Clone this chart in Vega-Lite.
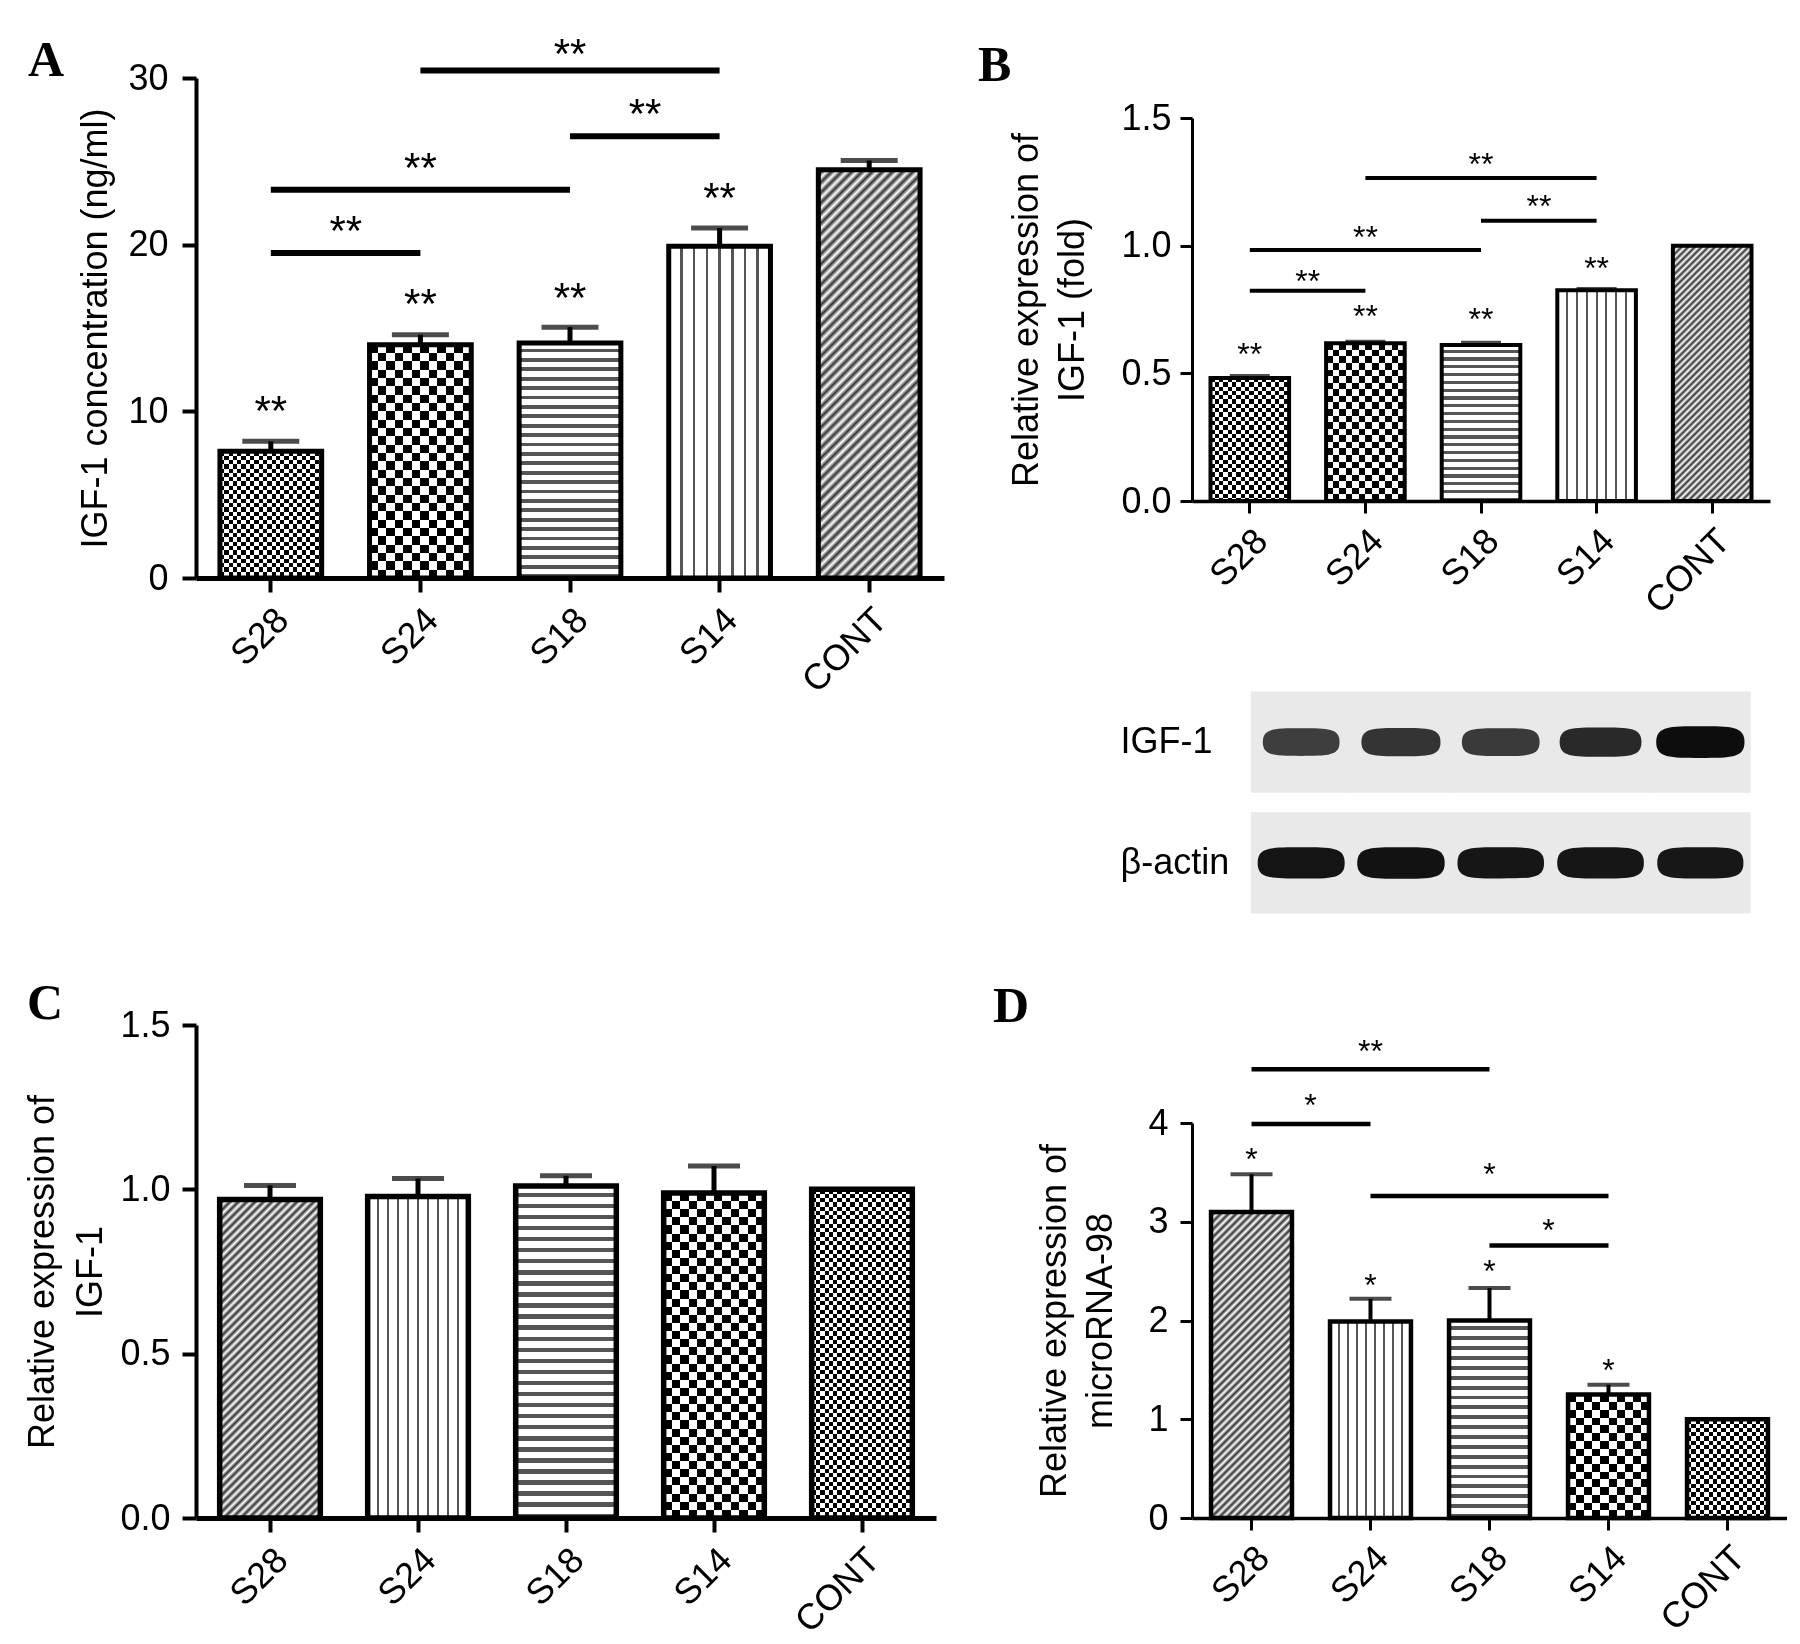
{
  "$schema": "https://vega.github.io/schema/vega-lite/v6.json",
  "background": "white",
  "padding": {"left": 24, "top": 34, "right": 0, "bottom": 0},
  "bounds": "flush",
  "spacing": 996,
  "params": [
    {"name": "vl7", "value": [
      {"offset": 0, "color": "#fff"},
      {"offset": 0.1125, "color": "#fff"}, {"offset": 0.1125, "color": "#555"}, {"offset": 0.1375, "color": "#555"}, {"offset": 0.1375, "color": "#fff"},
      {"offset": 0.2375, "color": "#fff"}, {"offset": 0.2375, "color": "#555"}, {"offset": 0.2625, "color": "#555"}, {"offset": 0.2625, "color": "#fff"},
      {"offset": 0.3625, "color": "#fff"}, {"offset": 0.3625, "color": "#555"}, {"offset": 0.3875, "color": "#555"}, {"offset": 0.3875, "color": "#fff"},
      {"offset": 0.4875, "color": "#fff"}, {"offset": 0.4875, "color": "#555"}, {"offset": 0.5125, "color": "#555"}, {"offset": 0.5125, "color": "#fff"},
      {"offset": 0.6125, "color": "#fff"}, {"offset": 0.6125, "color": "#555"}, {"offset": 0.6375, "color": "#555"}, {"offset": 0.6375, "color": "#fff"},
      {"offset": 0.7375, "color": "#fff"}, {"offset": 0.7375, "color": "#555"}, {"offset": 0.7625, "color": "#555"}, {"offset": 0.7625, "color": "#fff"},
      {"offset": 0.8625, "color": "#fff"}, {"offset": 0.8625, "color": "#555"}, {"offset": 0.8875, "color": "#555"}, {"offset": 0.8875, "color": "#fff"},
      {"offset": 1, "color": "#fff"}]},
    {"name": "vl9", "value": [
      {"offset": 0, "color": "#fff"},
      {"offset": 0.088, "color": "#fff"}, {"offset": 0.088, "color": "#555"}, {"offset": 0.112, "color": "#555"}, {"offset": 0.112, "color": "#fff"},
      {"offset": 0.188, "color": "#fff"}, {"offset": 0.188, "color": "#555"}, {"offset": 0.212, "color": "#555"}, {"offset": 0.212, "color": "#fff"},
      {"offset": 0.288, "color": "#fff"}, {"offset": 0.288, "color": "#555"}, {"offset": 0.312, "color": "#555"}, {"offset": 0.312, "color": "#fff"},
      {"offset": 0.388, "color": "#fff"}, {"offset": 0.388, "color": "#555"}, {"offset": 0.412, "color": "#555"}, {"offset": 0.412, "color": "#fff"},
      {"offset": 0.488, "color": "#fff"}, {"offset": 0.488, "color": "#555"}, {"offset": 0.512, "color": "#555"}, {"offset": 0.512, "color": "#fff"},
      {"offset": 0.588, "color": "#fff"}, {"offset": 0.588, "color": "#555"}, {"offset": 0.612, "color": "#555"}, {"offset": 0.612, "color": "#fff"},
      {"offset": 0.688, "color": "#fff"}, {"offset": 0.688, "color": "#555"}, {"offset": 0.712, "color": "#555"}, {"offset": 0.712, "color": "#fff"},
      {"offset": 0.788, "color": "#fff"}, {"offset": 0.788, "color": "#555"}, {"offset": 0.812, "color": "#555"}, {"offset": 0.812, "color": "#fff"},
      {"offset": 0.888, "color": "#fff"}, {"offset": 0.888, "color": "#555"}, {"offset": 0.912, "color": "#555"}, {"offset": 0.912, "color": "#fff"},
      {"offset": 1, "color": "#fff"}]},
    {"name": "vl8", "value": [
      {"offset": 0, "color": "#fff"},
      {"offset": 0.0971, "color": "#fff"}, {"offset": 0.0971, "color": "#555"}, {"offset": 0.1251, "color": "#555"}, {"offset": 0.1251, "color": "#fff"},
      {"offset": 0.2082, "color": "#fff"}, {"offset": 0.2082, "color": "#555"}, {"offset": 0.2362, "color": "#555"}, {"offset": 0.2362, "color": "#fff"},
      {"offset": 0.3193, "color": "#fff"}, {"offset": 0.3193, "color": "#555"}, {"offset": 0.3473, "color": "#555"}, {"offset": 0.3473, "color": "#fff"},
      {"offset": 0.4304, "color": "#fff"}, {"offset": 0.4304, "color": "#555"}, {"offset": 0.4584, "color": "#555"}, {"offset": 0.4584, "color": "#fff"},
      {"offset": 0.5416, "color": "#fff"}, {"offset": 0.5416, "color": "#555"}, {"offset": 0.5696, "color": "#555"}, {"offset": 0.5696, "color": "#fff"},
      {"offset": 0.6527, "color": "#fff"}, {"offset": 0.6527, "color": "#555"}, {"offset": 0.6807, "color": "#555"}, {"offset": 0.6807, "color": "#fff"},
      {"offset": 0.7638, "color": "#fff"}, {"offset": 0.7638, "color": "#555"}, {"offset": 0.7918, "color": "#555"}, {"offset": 0.7918, "color": "#fff"},
      {"offset": 0.8749, "color": "#fff"}, {"offset": 0.8749, "color": "#555"}, {"offset": 0.9029, "color": "#555"}, {"offset": 0.9029, "color": "#fff"},
      {"offset": 1, "color": "#fff"}]},
    {"name": "hl25", "value": [
      {"offset": 0, "color": "#fff"}, {"offset": 0.024, "color": "#fff"}, {"offset": 0.024, "color": "#555"}, {"offset": 0.04, "color": "#555"},
      {"offset": 0.04, "color": "#fff"}, {"offset": 0.064, "color": "#fff"}, {"offset": 0.064, "color": "#555"}, {"offset": 0.08, "color": "#555"},
      {"offset": 0.08, "color": "#fff"}, {"offset": 0.104, "color": "#fff"}, {"offset": 0.104, "color": "#555"}, {"offset": 0.12, "color": "#555"},
      {"offset": 0.12, "color": "#fff"}, {"offset": 0.144, "color": "#fff"}, {"offset": 0.144, "color": "#555"}, {"offset": 0.16, "color": "#555"},
      {"offset": 0.16, "color": "#fff"}, {"offset": 0.184, "color": "#fff"}, {"offset": 0.184, "color": "#555"}, {"offset": 0.2, "color": "#555"},
      {"offset": 0.2, "color": "#fff"}, {"offset": 0.224, "color": "#fff"}, {"offset": 0.224, "color": "#555"}, {"offset": 0.24, "color": "#555"},
      {"offset": 0.24, "color": "#fff"}, {"offset": 0.264, "color": "#fff"}, {"offset": 0.264, "color": "#555"}, {"offset": 0.28, "color": "#555"},
      {"offset": 0.28, "color": "#fff"}, {"offset": 0.304, "color": "#fff"}, {"offset": 0.304, "color": "#555"}, {"offset": 0.32, "color": "#555"},
      {"offset": 0.32, "color": "#fff"}, {"offset": 0.344, "color": "#fff"}, {"offset": 0.344, "color": "#555"}, {"offset": 0.36, "color": "#555"},
      {"offset": 0.36, "color": "#fff"}, {"offset": 0.384, "color": "#fff"}, {"offset": 0.384, "color": "#555"}, {"offset": 0.4, "color": "#555"},
      {"offset": 0.4, "color": "#fff"}, {"offset": 0.424, "color": "#fff"}, {"offset": 0.424, "color": "#555"}, {"offset": 0.44, "color": "#555"},
      {"offset": 0.44, "color": "#fff"}, {"offset": 0.464, "color": "#fff"}, {"offset": 0.464, "color": "#555"}, {"offset": 0.48, "color": "#555"},
      {"offset": 0.48, "color": "#fff"}, {"offset": 0.504, "color": "#fff"}, {"offset": 0.504, "color": "#555"}, {"offset": 0.52, "color": "#555"},
      {"offset": 0.52, "color": "#fff"}, {"offset": 0.544, "color": "#fff"}, {"offset": 0.544, "color": "#555"}, {"offset": 0.56, "color": "#555"},
      {"offset": 0.56, "color": "#fff"}, {"offset": 0.584, "color": "#fff"}, {"offset": 0.584, "color": "#555"}, {"offset": 0.6, "color": "#555"},
      {"offset": 0.6, "color": "#fff"}, {"offset": 0.624, "color": "#fff"}, {"offset": 0.624, "color": "#555"}, {"offset": 0.64, "color": "#555"},
      {"offset": 0.64, "color": "#fff"}, {"offset": 0.664, "color": "#fff"}, {"offset": 0.664, "color": "#555"}, {"offset": 0.68, "color": "#555"},
      {"offset": 0.68, "color": "#fff"}, {"offset": 0.704, "color": "#fff"}, {"offset": 0.704, "color": "#555"}, {"offset": 0.72, "color": "#555"},
      {"offset": 0.72, "color": "#fff"}, {"offset": 0.744, "color": "#fff"}, {"offset": 0.744, "color": "#555"}, {"offset": 0.76, "color": "#555"},
      {"offset": 0.76, "color": "#fff"}, {"offset": 0.784, "color": "#fff"}, {"offset": 0.784, "color": "#555"}, {"offset": 0.8, "color": "#555"},
      {"offset": 0.8, "color": "#fff"}, {"offset": 0.824, "color": "#fff"}, {"offset": 0.824, "color": "#555"}, {"offset": 0.84, "color": "#555"},
      {"offset": 0.84, "color": "#fff"}, {"offset": 0.864, "color": "#fff"}, {"offset": 0.864, "color": "#555"}, {"offset": 0.88, "color": "#555"},
      {"offset": 0.88, "color": "#fff"}, {"offset": 0.904, "color": "#fff"}, {"offset": 0.904, "color": "#555"}, {"offset": 0.92, "color": "#555"},
      {"offset": 0.92, "color": "#fff"}, {"offset": 0.944, "color": "#fff"}, {"offset": 0.944, "color": "#555"}, {"offset": 0.96, "color": "#555"},
      {"offset": 0.96, "color": "#fff"}, {"offset": 0.984, "color": "#fff"}, {"offset": 0.984, "color": "#555"}, {"offset": 1, "color": "#555"}]},
    {"name": "hl20", "value": [
      {"offset": 0, "color": "#fff"}, {"offset": 0.03, "color": "#fff"}, {"offset": 0.03, "color": "#555"}, {"offset": 0.05, "color": "#555"},
      {"offset": 0.05, "color": "#fff"}, {"offset": 0.08, "color": "#fff"}, {"offset": 0.08, "color": "#555"}, {"offset": 0.1, "color": "#555"},
      {"offset": 0.1, "color": "#fff"}, {"offset": 0.13, "color": "#fff"}, {"offset": 0.13, "color": "#555"}, {"offset": 0.15, "color": "#555"},
      {"offset": 0.15, "color": "#fff"}, {"offset": 0.18, "color": "#fff"}, {"offset": 0.18, "color": "#555"}, {"offset": 0.2, "color": "#555"},
      {"offset": 0.2, "color": "#fff"}, {"offset": 0.23, "color": "#fff"}, {"offset": 0.23, "color": "#555"}, {"offset": 0.25, "color": "#555"},
      {"offset": 0.25, "color": "#fff"}, {"offset": 0.28, "color": "#fff"}, {"offset": 0.28, "color": "#555"}, {"offset": 0.3, "color": "#555"},
      {"offset": 0.3, "color": "#fff"}, {"offset": 0.33, "color": "#fff"}, {"offset": 0.33, "color": "#555"}, {"offset": 0.35, "color": "#555"},
      {"offset": 0.35, "color": "#fff"}, {"offset": 0.38, "color": "#fff"}, {"offset": 0.38, "color": "#555"}, {"offset": 0.4, "color": "#555"},
      {"offset": 0.4, "color": "#fff"}, {"offset": 0.43, "color": "#fff"}, {"offset": 0.43, "color": "#555"}, {"offset": 0.45, "color": "#555"},
      {"offset": 0.45, "color": "#fff"}, {"offset": 0.48, "color": "#fff"}, {"offset": 0.48, "color": "#555"}, {"offset": 0.5, "color": "#555"},
      {"offset": 0.5, "color": "#fff"}, {"offset": 0.53, "color": "#fff"}, {"offset": 0.53, "color": "#555"}, {"offset": 0.55, "color": "#555"},
      {"offset": 0.55, "color": "#fff"}, {"offset": 0.58, "color": "#fff"}, {"offset": 0.58, "color": "#555"}, {"offset": 0.6, "color": "#555"},
      {"offset": 0.6, "color": "#fff"}, {"offset": 0.63, "color": "#fff"}, {"offset": 0.63, "color": "#555"}, {"offset": 0.65, "color": "#555"},
      {"offset": 0.65, "color": "#fff"}, {"offset": 0.68, "color": "#fff"}, {"offset": 0.68, "color": "#555"}, {"offset": 0.7, "color": "#555"},
      {"offset": 0.7, "color": "#fff"}, {"offset": 0.73, "color": "#fff"}, {"offset": 0.73, "color": "#555"}, {"offset": 0.75, "color": "#555"},
      {"offset": 0.75, "color": "#fff"}, {"offset": 0.78, "color": "#fff"}, {"offset": 0.78, "color": "#555"}, {"offset": 0.8, "color": "#555"},
      {"offset": 0.8, "color": "#fff"}, {"offset": 0.83, "color": "#fff"}, {"offset": 0.83, "color": "#555"}, {"offset": 0.85, "color": "#555"},
      {"offset": 0.85, "color": "#fff"}, {"offset": 0.88, "color": "#fff"}, {"offset": 0.88, "color": "#555"}, {"offset": 0.9, "color": "#555"},
      {"offset": 0.9, "color": "#fff"}, {"offset": 0.93, "color": "#fff"}, {"offset": 0.93, "color": "#555"}, {"offset": 0.95, "color": "#555"},
      {"offset": 0.95, "color": "#fff"}, {"offset": 0.98, "color": "#fff"}, {"offset": 0.98, "color": "#555"}, {"offset": 1, "color": "#555"}]},
    {"name": "hl30", "value": [
      {"offset": 0, "color": "#fff"}, {"offset": 0.02, "color": "#fff"}, {"offset": 0.02, "color": "#555"}, {"offset": 0.0333, "color": "#555"},
      {"offset": 0.0333, "color": "#fff"}, {"offset": 0.0533, "color": "#fff"}, {"offset": 0.0533, "color": "#555"}, {"offset": 0.0667, "color": "#555"},
      {"offset": 0.0667, "color": "#fff"}, {"offset": 0.0867, "color": "#fff"}, {"offset": 0.0867, "color": "#555"}, {"offset": 0.1, "color": "#555"},
      {"offset": 0.1, "color": "#fff"}, {"offset": 0.12, "color": "#fff"}, {"offset": 0.12, "color": "#555"}, {"offset": 0.1333, "color": "#555"},
      {"offset": 0.1333, "color": "#fff"}, {"offset": 0.1533, "color": "#fff"}, {"offset": 0.1533, "color": "#555"}, {"offset": 0.1667, "color": "#555"},
      {"offset": 0.1667, "color": "#fff"}, {"offset": 0.1867, "color": "#fff"}, {"offset": 0.1867, "color": "#555"}, {"offset": 0.2, "color": "#555"},
      {"offset": 0.2, "color": "#fff"}, {"offset": 0.22, "color": "#fff"}, {"offset": 0.22, "color": "#555"}, {"offset": 0.2333, "color": "#555"},
      {"offset": 0.2333, "color": "#fff"}, {"offset": 0.2533, "color": "#fff"}, {"offset": 0.2533, "color": "#555"}, {"offset": 0.2667, "color": "#555"},
      {"offset": 0.2667, "color": "#fff"}, {"offset": 0.2867, "color": "#fff"}, {"offset": 0.2867, "color": "#555"}, {"offset": 0.3, "color": "#555"},
      {"offset": 0.3, "color": "#fff"}, {"offset": 0.32, "color": "#fff"}, {"offset": 0.32, "color": "#555"}, {"offset": 0.3333, "color": "#555"},
      {"offset": 0.3333, "color": "#fff"}, {"offset": 0.3533, "color": "#fff"}, {"offset": 0.3533, "color": "#555"}, {"offset": 0.3667, "color": "#555"},
      {"offset": 0.3667, "color": "#fff"}, {"offset": 0.3867, "color": "#fff"}, {"offset": 0.3867, "color": "#555"}, {"offset": 0.4, "color": "#555"},
      {"offset": 0.4, "color": "#fff"}, {"offset": 0.42, "color": "#fff"}, {"offset": 0.42, "color": "#555"}, {"offset": 0.4333, "color": "#555"},
      {"offset": 0.4333, "color": "#fff"}, {"offset": 0.4533, "color": "#fff"}, {"offset": 0.4533, "color": "#555"}, {"offset": 0.4667, "color": "#555"},
      {"offset": 0.4667, "color": "#fff"}, {"offset": 0.4867, "color": "#fff"}, {"offset": 0.4867, "color": "#555"}, {"offset": 0.5, "color": "#555"},
      {"offset": 0.5, "color": "#fff"}, {"offset": 0.52, "color": "#fff"}, {"offset": 0.52, "color": "#555"}, {"offset": 0.5333, "color": "#555"},
      {"offset": 0.5333, "color": "#fff"}, {"offset": 0.5533, "color": "#fff"}, {"offset": 0.5533, "color": "#555"}, {"offset": 0.5667, "color": "#555"},
      {"offset": 0.5667, "color": "#fff"}, {"offset": 0.5867, "color": "#fff"}, {"offset": 0.5867, "color": "#555"}, {"offset": 0.6, "color": "#555"},
      {"offset": 0.6, "color": "#fff"}, {"offset": 0.62, "color": "#fff"}, {"offset": 0.62, "color": "#555"}, {"offset": 0.6333, "color": "#555"},
      {"offset": 0.6333, "color": "#fff"}, {"offset": 0.6533, "color": "#fff"}, {"offset": 0.6533, "color": "#555"}, {"offset": 0.6667, "color": "#555"},
      {"offset": 0.6667, "color": "#fff"}, {"offset": 0.6867, "color": "#fff"}, {"offset": 0.6867, "color": "#555"}, {"offset": 0.7, "color": "#555"},
      {"offset": 0.7, "color": "#fff"}, {"offset": 0.72, "color": "#fff"}, {"offset": 0.72, "color": "#555"}, {"offset": 0.7333, "color": "#555"},
      {"offset": 0.7333, "color": "#fff"}, {"offset": 0.7533, "color": "#fff"}, {"offset": 0.7533, "color": "#555"}, {"offset": 0.7667, "color": "#555"},
      {"offset": 0.7667, "color": "#fff"}, {"offset": 0.7867, "color": "#fff"}, {"offset": 0.7867, "color": "#555"}, {"offset": 0.8, "color": "#555"},
      {"offset": 0.8, "color": "#fff"}, {"offset": 0.82, "color": "#fff"}, {"offset": 0.82, "color": "#555"}, {"offset": 0.8333, "color": "#555"},
      {"offset": 0.8333, "color": "#fff"}, {"offset": 0.8533, "color": "#fff"}, {"offset": 0.8533, "color": "#555"}, {"offset": 0.8667, "color": "#555"},
      {"offset": 0.8667, "color": "#fff"}, {"offset": 0.8867, "color": "#fff"}, {"offset": 0.8867, "color": "#555"}, {"offset": 0.9, "color": "#555"},
      {"offset": 0.9, "color": "#fff"}, {"offset": 0.92, "color": "#fff"}, {"offset": 0.92, "color": "#555"}, {"offset": 0.9333, "color": "#555"},
      {"offset": 0.9333, "color": "#fff"}, {"offset": 0.9533, "color": "#fff"}, {"offset": 0.9533, "color": "#555"}, {"offset": 0.9667, "color": "#555"},
      {"offset": 0.9667, "color": "#fff"}, {"offset": 0.9867, "color": "#fff"}, {"offset": 0.9867, "color": "#555"}, {"offset": 1, "color": "#555"}]},
    {"name": "diag", "value": [
      {"offset": 0, "color": "#fff"}, {"offset": 0.01, "color": "#333"}, {"offset": 0.02, "color": "#fff"}, {"offset": 0.03, "color": "#333"}, {"offset": 0.04, "color": "#fff"},
      {"offset": 0.05, "color": "#333"}, {"offset": 0.06, "color": "#fff"}, {"offset": 0.07, "color": "#333"}, {"offset": 0.08, "color": "#fff"}, {"offset": 0.09, "color": "#333"},
      {"offset": 0.1, "color": "#fff"}, {"offset": 0.11, "color": "#333"}, {"offset": 0.12, "color": "#fff"}, {"offset": 0.13, "color": "#333"}, {"offset": 0.14, "color": "#fff"},
      {"offset": 0.15, "color": "#333"}, {"offset": 0.16, "color": "#fff"}, {"offset": 0.17, "color": "#333"}, {"offset": 0.18, "color": "#fff"}, {"offset": 0.19, "color": "#333"},
      {"offset": 0.2, "color": "#fff"}, {"offset": 0.21, "color": "#333"}, {"offset": 0.22, "color": "#fff"}, {"offset": 0.23, "color": "#333"}, {"offset": 0.24, "color": "#fff"},
      {"offset": 0.25, "color": "#333"}, {"offset": 0.26, "color": "#fff"}, {"offset": 0.27, "color": "#333"}, {"offset": 0.28, "color": "#fff"}, {"offset": 0.29, "color": "#333"},
      {"offset": 0.3, "color": "#fff"}, {"offset": 0.31, "color": "#333"}, {"offset": 0.32, "color": "#fff"}, {"offset": 0.33, "color": "#333"}, {"offset": 0.34, "color": "#fff"},
      {"offset": 0.35, "color": "#333"}, {"offset": 0.36, "color": "#fff"}, {"offset": 0.37, "color": "#333"}, {"offset": 0.38, "color": "#fff"}, {"offset": 0.39, "color": "#333"},
      {"offset": 0.4, "color": "#fff"}, {"offset": 0.41, "color": "#333"}, {"offset": 0.42, "color": "#fff"}, {"offset": 0.43, "color": "#333"}, {"offset": 0.44, "color": "#fff"},
      {"offset": 0.45, "color": "#333"}, {"offset": 0.46, "color": "#fff"}, {"offset": 0.47, "color": "#333"}, {"offset": 0.48, "color": "#fff"}, {"offset": 0.49, "color": "#333"},
      {"offset": 0.5, "color": "#fff"}, {"offset": 0.51, "color": "#333"}, {"offset": 0.52, "color": "#fff"}, {"offset": 0.53, "color": "#333"}, {"offset": 0.54, "color": "#fff"},
      {"offset": 0.55, "color": "#333"}, {"offset": 0.56, "color": "#fff"}, {"offset": 0.57, "color": "#333"}, {"offset": 0.58, "color": "#fff"}, {"offset": 0.59, "color": "#333"},
      {"offset": 0.6, "color": "#fff"}, {"offset": 0.61, "color": "#333"}, {"offset": 0.62, "color": "#fff"}, {"offset": 0.63, "color": "#333"}, {"offset": 0.64, "color": "#fff"},
      {"offset": 0.65, "color": "#333"}, {"offset": 0.66, "color": "#fff"}, {"offset": 0.67, "color": "#333"}, {"offset": 0.68, "color": "#fff"}, {"offset": 0.69, "color": "#333"},
      {"offset": 0.7, "color": "#fff"}, {"offset": 0.71, "color": "#333"}, {"offset": 0.72, "color": "#fff"}, {"offset": 0.73, "color": "#333"}, {"offset": 0.74, "color": "#fff"},
      {"offset": 0.75, "color": "#333"}, {"offset": 0.76, "color": "#fff"}, {"offset": 0.77, "color": "#333"}, {"offset": 0.78, "color": "#fff"}, {"offset": 0.79, "color": "#333"},
      {"offset": 0.8, "color": "#fff"}, {"offset": 0.81, "color": "#333"}, {"offset": 0.82, "color": "#fff"}, {"offset": 0.83, "color": "#333"}, {"offset": 0.84, "color": "#fff"},
      {"offset": 0.85, "color": "#333"}, {"offset": 0.86, "color": "#fff"}, {"offset": 0.87, "color": "#333"}, {"offset": 0.88, "color": "#fff"}, {"offset": 0.89, "color": "#333"},
      {"offset": 0.9, "color": "#fff"}, {"offset": 0.91, "color": "#333"}, {"offset": 0.92, "color": "#fff"}, {"offset": 0.93, "color": "#333"}, {"offset": 0.94, "color": "#fff"},
      {"offset": 0.95, "color": "#333"}, {"offset": 0.96, "color": "#fff"}, {"offset": 0.97, "color": "#333"}, {"offset": 0.98, "color": "#fff"}, {"offset": 0.99, "color": "#333"},
      {"offset": 1, "color": "#fff"}]},
    {"name": "ck12", "value": [
      {"offset": 0, "color": "#000"}, {"offset": 0.0833, "color": "#000"}, {"offset": 0.0833, "color": "#fff"}, {"offset": 0.1667, "color": "#fff"},
      {"offset": 0.1667, "color": "#000"}, {"offset": 0.25, "color": "#000"}, {"offset": 0.25, "color": "#fff"}, {"offset": 0.3333, "color": "#fff"},
      {"offset": 0.3333, "color": "#000"}, {"offset": 0.4167, "color": "#000"}, {"offset": 0.4167, "color": "#fff"}, {"offset": 0.5, "color": "#fff"},
      {"offset": 0.5, "color": "#000"}, {"offset": 0.5833, "color": "#000"}, {"offset": 0.5833, "color": "#fff"}, {"offset": 0.6667, "color": "#fff"},
      {"offset": 0.6667, "color": "#000"}, {"offset": 0.75, "color": "#000"}, {"offset": 0.75, "color": "#fff"}, {"offset": 0.8333, "color": "#fff"},
      {"offset": 0.8333, "color": "#000"}, {"offset": 0.9167, "color": "#000"}, {"offset": 0.9167, "color": "#fff"}, {"offset": 1, "color": "#fff"}]},
    {"name": "ck10", "value": [
      {"offset": 0, "color": "#000"}, {"offset": 0.1, "color": "#000"}, {"offset": 0.1, "color": "#fff"}, {"offset": 0.2, "color": "#fff"},
      {"offset": 0.2, "color": "#000"}, {"offset": 0.3, "color": "#000"}, {"offset": 0.3, "color": "#fff"}, {"offset": 0.4, "color": "#fff"},
      {"offset": 0.4, "color": "#000"}, {"offset": 0.5, "color": "#000"}, {"offset": 0.5, "color": "#fff"}, {"offset": 0.6, "color": "#fff"},
      {"offset": 0.6, "color": "#000"}, {"offset": 0.7, "color": "#000"}, {"offset": 0.7, "color": "#fff"}, {"offset": 0.8, "color": "#fff"},
      {"offset": 0.8, "color": "#000"}, {"offset": 0.9, "color": "#000"}, {"offset": 0.9, "color": "#fff"}, {"offset": 1, "color": "#fff"}]},
    {"name": "ckh28", "value": [
      {"offset": 0, "color": "#000"}, {"offset": 0.0357, "color": "#000"}, {"offset": 0.0357, "color": "#fff"}, {"offset": 0.0714, "color": "#fff"},
      {"offset": 0.0714, "color": "#000"}, {"offset": 0.1071, "color": "#000"}, {"offset": 0.1071, "color": "#fff"}, {"offset": 0.1429, "color": "#fff"},
      {"offset": 0.1429, "color": "#000"}, {"offset": 0.1786, "color": "#000"}, {"offset": 0.1786, "color": "#fff"}, {"offset": 0.2143, "color": "#fff"},
      {"offset": 0.2143, "color": "#000"}, {"offset": 0.25, "color": "#000"}, {"offset": 0.25, "color": "#fff"}, {"offset": 0.2857, "color": "#fff"},
      {"offset": 0.2857, "color": "#000"}, {"offset": 0.3214, "color": "#000"}, {"offset": 0.3214, "color": "#fff"}, {"offset": 0.3571, "color": "#fff"},
      {"offset": 0.3571, "color": "#000"}, {"offset": 0.3929, "color": "#000"}, {"offset": 0.3929, "color": "#fff"}, {"offset": 0.4286, "color": "#fff"},
      {"offset": 0.4286, "color": "#000"}, {"offset": 0.4643, "color": "#000"}, {"offset": 0.4643, "color": "#fff"}, {"offset": 0.5, "color": "#fff"},
      {"offset": 0.5, "color": "#000"}, {"offset": 0.5357, "color": "#000"}, {"offset": 0.5357, "color": "#fff"}, {"offset": 0.5714, "color": "#fff"},
      {"offset": 0.5714, "color": "#000"}, {"offset": 0.6071, "color": "#000"}, {"offset": 0.6071, "color": "#fff"}, {"offset": 0.6429, "color": "#fff"},
      {"offset": 0.6429, "color": "#000"}, {"offset": 0.6786, "color": "#000"}, {"offset": 0.6786, "color": "#fff"}, {"offset": 0.7143, "color": "#fff"},
      {"offset": 0.7143, "color": "#000"}, {"offset": 0.75, "color": "#000"}, {"offset": 0.75, "color": "#fff"}, {"offset": 0.7857, "color": "#fff"},
      {"offset": 0.7857, "color": "#000"}, {"offset": 0.8214, "color": "#000"}, {"offset": 0.8214, "color": "#fff"}, {"offset": 0.8571, "color": "#fff"},
      {"offset": 0.8571, "color": "#000"}, {"offset": 0.8929, "color": "#000"}, {"offset": 0.8929, "color": "#fff"}, {"offset": 0.9286, "color": "#fff"},
      {"offset": 0.9286, "color": "#000"}, {"offset": 0.9643, "color": "#000"}, {"offset": 0.9643, "color": "#fff"}, {"offset": 1, "color": "#fff"}]},
    {"name": "ckh24", "value": [
      {"offset": 0, "color": "#000"}, {"offset": 0.0417, "color": "#000"}, {"offset": 0.0417, "color": "#fff"}, {"offset": 0.0833, "color": "#fff"},
      {"offset": 0.0833, "color": "#000"}, {"offset": 0.125, "color": "#000"}, {"offset": 0.125, "color": "#fff"}, {"offset": 0.1667, "color": "#fff"},
      {"offset": 0.1667, "color": "#000"}, {"offset": 0.2083, "color": "#000"}, {"offset": 0.2083, "color": "#fff"}, {"offset": 0.25, "color": "#fff"},
      {"offset": 0.25, "color": "#000"}, {"offset": 0.2917, "color": "#000"}, {"offset": 0.2917, "color": "#fff"}, {"offset": 0.3333, "color": "#fff"},
      {"offset": 0.3333, "color": "#000"}, {"offset": 0.375, "color": "#000"}, {"offset": 0.375, "color": "#fff"}, {"offset": 0.4167, "color": "#fff"},
      {"offset": 0.4167, "color": "#000"}, {"offset": 0.4583, "color": "#000"}, {"offset": 0.4583, "color": "#fff"}, {"offset": 0.5, "color": "#fff"},
      {"offset": 0.5, "color": "#000"}, {"offset": 0.5417, "color": "#000"}, {"offset": 0.5417, "color": "#fff"}, {"offset": 0.5833, "color": "#fff"},
      {"offset": 0.5833, "color": "#000"}, {"offset": 0.625, "color": "#000"}, {"offset": 0.625, "color": "#fff"}, {"offset": 0.6667, "color": "#fff"},
      {"offset": 0.6667, "color": "#000"}, {"offset": 0.7083, "color": "#000"}, {"offset": 0.7083, "color": "#fff"}, {"offset": 0.75, "color": "#fff"},
      {"offset": 0.75, "color": "#000"}, {"offset": 0.7917, "color": "#000"}, {"offset": 0.7917, "color": "#fff"}, {"offset": 0.8333, "color": "#fff"},
      {"offset": 0.8333, "color": "#000"}, {"offset": 0.875, "color": "#000"}, {"offset": 0.875, "color": "#fff"}, {"offset": 0.9167, "color": "#fff"},
      {"offset": 0.9167, "color": "#000"}, {"offset": 0.9583, "color": "#000"}, {"offset": 0.9583, "color": "#fff"}, {"offset": 1, "color": "#fff"}]},
    {"name": "ckh40", "value": [
      {"offset": 0, "color": "#000"}, {"offset": 0.025, "color": "#000"}, {"offset": 0.025, "color": "#fff"}, {"offset": 0.05, "color": "#fff"},
      {"offset": 0.05, "color": "#000"}, {"offset": 0.075, "color": "#000"}, {"offset": 0.075, "color": "#fff"}, {"offset": 0.1, "color": "#fff"},
      {"offset": 0.1, "color": "#000"}, {"offset": 0.125, "color": "#000"}, {"offset": 0.125, "color": "#fff"}, {"offset": 0.15, "color": "#fff"},
      {"offset": 0.15, "color": "#000"}, {"offset": 0.175, "color": "#000"}, {"offset": 0.175, "color": "#fff"}, {"offset": 0.2, "color": "#fff"},
      {"offset": 0.2, "color": "#000"}, {"offset": 0.225, "color": "#000"}, {"offset": 0.225, "color": "#fff"}, {"offset": 0.25, "color": "#fff"},
      {"offset": 0.25, "color": "#000"}, {"offset": 0.275, "color": "#000"}, {"offset": 0.275, "color": "#fff"}, {"offset": 0.3, "color": "#fff"},
      {"offset": 0.3, "color": "#000"}, {"offset": 0.325, "color": "#000"}, {"offset": 0.325, "color": "#fff"}, {"offset": 0.35, "color": "#fff"},
      {"offset": 0.35, "color": "#000"}, {"offset": 0.375, "color": "#000"}, {"offset": 0.375, "color": "#fff"}, {"offset": 0.4, "color": "#fff"},
      {"offset": 0.4, "color": "#000"}, {"offset": 0.425, "color": "#000"}, {"offset": 0.425, "color": "#fff"}, {"offset": 0.45, "color": "#fff"},
      {"offset": 0.45, "color": "#000"}, {"offset": 0.475, "color": "#000"}, {"offset": 0.475, "color": "#fff"}, {"offset": 0.5, "color": "#fff"},
      {"offset": 0.5, "color": "#000"}, {"offset": 0.525, "color": "#000"}, {"offset": 0.525, "color": "#fff"}, {"offset": 0.55, "color": "#fff"},
      {"offset": 0.55, "color": "#000"}, {"offset": 0.575, "color": "#000"}, {"offset": 0.575, "color": "#fff"}, {"offset": 0.6, "color": "#fff"},
      {"offset": 0.6, "color": "#000"}, {"offset": 0.625, "color": "#000"}, {"offset": 0.625, "color": "#fff"}, {"offset": 0.65, "color": "#fff"},
      {"offset": 0.65, "color": "#000"}, {"offset": 0.675, "color": "#000"}, {"offset": 0.675, "color": "#fff"}, {"offset": 0.7, "color": "#fff"},
      {"offset": 0.7, "color": "#000"}, {"offset": 0.725, "color": "#000"}, {"offset": 0.725, "color": "#fff"}, {"offset": 0.75, "color": "#fff"},
      {"offset": 0.75, "color": "#000"}, {"offset": 0.775, "color": "#000"}, {"offset": 0.775, "color": "#fff"}, {"offset": 0.8, "color": "#fff"},
      {"offset": 0.8, "color": "#000"}, {"offset": 0.825, "color": "#000"}, {"offset": 0.825, "color": "#fff"}, {"offset": 0.85, "color": "#fff"},
      {"offset": 0.85, "color": "#000"}, {"offset": 0.875, "color": "#000"}, {"offset": 0.875, "color": "#fff"}, {"offset": 0.9, "color": "#fff"},
      {"offset": 0.9, "color": "#000"}, {"offset": 0.925, "color": "#000"}, {"offset": 0.925, "color": "#fff"}, {"offset": 0.95, "color": "#fff"},
      {"offset": 0.95, "color": "#000"}, {"offset": 0.975, "color": "#000"}, {"offset": 0.975, "color": "#fff"}, {"offset": 1, "color": "#fff"}]},
    {"name": "ckh16", "value": [
      {"offset": 0, "color": "#000"}, {"offset": 0.0625, "color": "#000"}, {"offset": 0.0625, "color": "#fff"}, {"offset": 0.125, "color": "#fff"},
      {"offset": 0.125, "color": "#000"}, {"offset": 0.1875, "color": "#000"}, {"offset": 0.1875, "color": "#fff"}, {"offset": 0.25, "color": "#fff"},
      {"offset": 0.25, "color": "#000"}, {"offset": 0.3125, "color": "#000"}, {"offset": 0.3125, "color": "#fff"}, {"offset": 0.375, "color": "#fff"},
      {"offset": 0.375, "color": "#000"}, {"offset": 0.4375, "color": "#000"}, {"offset": 0.4375, "color": "#fff"}, {"offset": 0.5, "color": "#fff"},
      {"offset": 0.5, "color": "#000"}, {"offset": 0.5625, "color": "#000"}, {"offset": 0.5625, "color": "#fff"}, {"offset": 0.625, "color": "#fff"},
      {"offset": 0.625, "color": "#000"}, {"offset": 0.6875, "color": "#000"}, {"offset": 0.6875, "color": "#fff"}, {"offset": 0.75, "color": "#fff"},
      {"offset": 0.75, "color": "#000"}, {"offset": 0.8125, "color": "#000"}, {"offset": 0.8125, "color": "#fff"}, {"offset": 0.875, "color": "#fff"},
      {"offset": 0.875, "color": "#000"}, {"offset": 0.9375, "color": "#000"}, {"offset": 0.9375, "color": "#fff"}, {"offset": 1, "color": "#fff"}]},
    {"name": "fh80", "value": [
      {"offset": 0, "color": "#000"}, {"offset": 0.0125, "color": "#000"}, {"offset": 0.0125, "color": "#fff"}, {"offset": 0.025, "color": "#fff"},
      {"offset": 0.025, "color": "#000"}, {"offset": 0.0375, "color": "#000"}, {"offset": 0.0375, "color": "#fff"}, {"offset": 0.05, "color": "#fff"},
      {"offset": 0.05, "color": "#000"}, {"offset": 0.0625, "color": "#000"}, {"offset": 0.0625, "color": "#fff"}, {"offset": 0.075, "color": "#fff"},
      {"offset": 0.075, "color": "#000"}, {"offset": 0.0875, "color": "#000"}, {"offset": 0.0875, "color": "#fff"}, {"offset": 0.1, "color": "#fff"},
      {"offset": 0.1, "color": "#000"}, {"offset": 0.1125, "color": "#000"}, {"offset": 0.1125, "color": "#fff"}, {"offset": 0.125, "color": "#fff"},
      {"offset": 0.125, "color": "#000"}, {"offset": 0.1375, "color": "#000"}, {"offset": 0.1375, "color": "#fff"}, {"offset": 0.15, "color": "#fff"},
      {"offset": 0.15, "color": "#000"}, {"offset": 0.1625, "color": "#000"}, {"offset": 0.1625, "color": "#fff"}, {"offset": 0.175, "color": "#fff"},
      {"offset": 0.175, "color": "#000"}, {"offset": 0.1875, "color": "#000"}, {"offset": 0.1875, "color": "#fff"}, {"offset": 0.2, "color": "#fff"},
      {"offset": 0.2, "color": "#000"}, {"offset": 0.2125, "color": "#000"}, {"offset": 0.2125, "color": "#fff"}, {"offset": 0.225, "color": "#fff"},
      {"offset": 0.225, "color": "#000"}, {"offset": 0.2375, "color": "#000"}, {"offset": 0.2375, "color": "#fff"}, {"offset": 0.25, "color": "#fff"},
      {"offset": 0.25, "color": "#000"}, {"offset": 0.2625, "color": "#000"}, {"offset": 0.2625, "color": "#fff"}, {"offset": 0.275, "color": "#fff"},
      {"offset": 0.275, "color": "#000"}, {"offset": 0.2875, "color": "#000"}, {"offset": 0.2875, "color": "#fff"}, {"offset": 0.3, "color": "#fff"},
      {"offset": 0.3, "color": "#000"}, {"offset": 0.3125, "color": "#000"}, {"offset": 0.3125, "color": "#fff"}, {"offset": 0.325, "color": "#fff"},
      {"offset": 0.325, "color": "#000"}, {"offset": 0.3375, "color": "#000"}, {"offset": 0.3375, "color": "#fff"}, {"offset": 0.35, "color": "#fff"},
      {"offset": 0.35, "color": "#000"}, {"offset": 0.3625, "color": "#000"}, {"offset": 0.3625, "color": "#fff"}, {"offset": 0.375, "color": "#fff"},
      {"offset": 0.375, "color": "#000"}, {"offset": 0.3875, "color": "#000"}, {"offset": 0.3875, "color": "#fff"}, {"offset": 0.4, "color": "#fff"},
      {"offset": 0.4, "color": "#000"}, {"offset": 0.4125, "color": "#000"}, {"offset": 0.4125, "color": "#fff"}, {"offset": 0.425, "color": "#fff"},
      {"offset": 0.425, "color": "#000"}, {"offset": 0.4375, "color": "#000"}, {"offset": 0.4375, "color": "#fff"}, {"offset": 0.45, "color": "#fff"},
      {"offset": 0.45, "color": "#000"}, {"offset": 0.4625, "color": "#000"}, {"offset": 0.4625, "color": "#fff"}, {"offset": 0.475, "color": "#fff"},
      {"offset": 0.475, "color": "#000"}, {"offset": 0.4875, "color": "#000"}, {"offset": 0.4875, "color": "#fff"}, {"offset": 0.5, "color": "#fff"},
      {"offset": 0.5, "color": "#000"}, {"offset": 0.5125, "color": "#000"}, {"offset": 0.5125, "color": "#fff"}, {"offset": 0.525, "color": "#fff"},
      {"offset": 0.525, "color": "#000"}, {"offset": 0.5375, "color": "#000"}, {"offset": 0.5375, "color": "#fff"}, {"offset": 0.55, "color": "#fff"},
      {"offset": 0.55, "color": "#000"}, {"offset": 0.5625, "color": "#000"}, {"offset": 0.5625, "color": "#fff"}, {"offset": 0.575, "color": "#fff"},
      {"offset": 0.575, "color": "#000"}, {"offset": 0.5875, "color": "#000"}, {"offset": 0.5875, "color": "#fff"}, {"offset": 0.6, "color": "#fff"},
      {"offset": 0.6, "color": "#000"}, {"offset": 0.6125, "color": "#000"}, {"offset": 0.6125, "color": "#fff"}, {"offset": 0.625, "color": "#fff"},
      {"offset": 0.625, "color": "#000"}, {"offset": 0.6375, "color": "#000"}, {"offset": 0.6375, "color": "#fff"}, {"offset": 0.65, "color": "#fff"},
      {"offset": 0.65, "color": "#000"}, {"offset": 0.6625, "color": "#000"}, {"offset": 0.6625, "color": "#fff"}, {"offset": 0.675, "color": "#fff"},
      {"offset": 0.675, "color": "#000"}, {"offset": 0.6875, "color": "#000"}, {"offset": 0.6875, "color": "#fff"}, {"offset": 0.7, "color": "#fff"},
      {"offset": 0.7, "color": "#000"}, {"offset": 0.7125, "color": "#000"}, {"offset": 0.7125, "color": "#fff"}, {"offset": 0.725, "color": "#fff"},
      {"offset": 0.725, "color": "#000"}, {"offset": 0.7375, "color": "#000"}, {"offset": 0.7375, "color": "#fff"}, {"offset": 0.75, "color": "#fff"},
      {"offset": 0.75, "color": "#000"}, {"offset": 0.7625, "color": "#000"}, {"offset": 0.7625, "color": "#fff"}, {"offset": 0.775, "color": "#fff"},
      {"offset": 0.775, "color": "#000"}, {"offset": 0.7875, "color": "#000"}, {"offset": 0.7875, "color": "#fff"}, {"offset": 0.8, "color": "#fff"},
      {"offset": 0.8, "color": "#000"}, {"offset": 0.8125, "color": "#000"}, {"offset": 0.8125, "color": "#fff"}, {"offset": 0.825, "color": "#fff"},
      {"offset": 0.825, "color": "#000"}, {"offset": 0.8375, "color": "#000"}, {"offset": 0.8375, "color": "#fff"}, {"offset": 0.85, "color": "#fff"},
      {"offset": 0.85, "color": "#000"}, {"offset": 0.8625, "color": "#000"}, {"offset": 0.8625, "color": "#fff"}, {"offset": 0.875, "color": "#fff"},
      {"offset": 0.875, "color": "#000"}, {"offset": 0.8875, "color": "#000"}, {"offset": 0.8875, "color": "#fff"}, {"offset": 0.9, "color": "#fff"},
      {"offset": 0.9, "color": "#000"}, {"offset": 0.9125, "color": "#000"}, {"offset": 0.9125, "color": "#fff"}, {"offset": 0.925, "color": "#fff"},
      {"offset": 0.925, "color": "#000"}, {"offset": 0.9375, "color": "#000"}, {"offset": 0.9375, "color": "#fff"}, {"offset": 0.95, "color": "#fff"},
      {"offset": 0.95, "color": "#000"}, {"offset": 0.9625, "color": "#000"}, {"offset": 0.9625, "color": "#fff"}, {"offset": 0.975, "color": "#fff"},
      {"offset": 0.975, "color": "#000"}, {"offset": 0.9875, "color": "#000"}, {"offset": 0.9875, "color": "#fff"}, {"offset": 1, "color": "#fff"}]}
  ],
  "datasets": {
    "barsA": [
      {"group": "S28", "value": 7.6, "upper": 8.2},
      {"group": "S24", "value": 14.0, "upper": 14.6},
      {"group": "S18", "value": 14.1, "upper": 15.05},
      {"group": "S14", "value": 19.9, "upper": 21.0},
      {"group": "CONT", "value": 24.5, "upper": 25.05}
    ],
    "starsA": [
      {"group": "S28", "y": 10.5, "label": "**"},
      {"group": "S24", "y": 16.9, "label": "**"},
      {"group": "S18", "y": 17.3, "label": "**"},
      {"group": "S14", "y": 23.3, "label": "**"}
    ],
    "sigA": [
      {"from": "S28", "to": "S24", "mid": "S28", "span": 1, "y": 19.5, "ly": 21.3, "label": "**"},
      {"from": "S28", "to": "S18", "mid": "S24", "span": 2, "y": 23.3, "ly": 25.1, "label": "**"},
      {"from": "S18", "to": "S14", "mid": "S18", "span": 1, "y": 26.5, "ly": 28.3, "label": "**"},
      {"from": "S24", "to": "S14", "mid": "S18", "span": 2, "y": 30.45, "ly": 31.9, "label": "**"}
    ],
    "barsB": [
      {"group": "S28", "value": 0.482, "upper": 0.492},
      {"group": "S24", "value": 0.618, "upper": 0.626},
      {"group": "S18", "value": 0.611, "upper": 0.622},
      {"group": "S14", "value": 0.825, "upper": 0.832},
      {"group": "CONT", "value": 1.0, "upper": 1.0}
    ],
    "starsB": [
      {"group": "S28", "y": 0.6, "label": "**"},
      {"group": "S24", "y": 0.748, "label": "**"},
      {"group": "S18", "y": 0.736, "label": "**"},
      {"group": "S14", "y": 0.936, "label": "**"}
    ],
    "sigB": [
      {"from": "S28", "to": "S24", "mid": "S28", "span": 1, "y": 0.823, "ly": 0.886, "label": "**"},
      {"from": "S28", "to": "S18", "mid": "S24", "span": 2, "y": 0.983, "ly": 1.058, "label": "**"},
      {"from": "S18", "to": "S14", "mid": "S18", "span": 1, "y": 1.098, "ly": 1.18, "label": "**"},
      {"from": "S24", "to": "S14", "mid": "S18", "span": 2, "y": 1.265, "ly": 1.345, "label": "**"}
    ],
    "blot": [
      {"lane": "S28", "protein": "IGF-1", "signal": 0.74},
      {"lane": "S24", "protein": "IGF-1", "signal": 0.79},
      {"lane": "S18", "protein": "IGF-1", "signal": 0.76},
      {"lane": "S14", "protein": "IGF-1", "signal": 0.85},
      {"lane": "CONT", "protein": "IGF-1", "signal": 1.0},
      {"lane": "S28", "protein": "β-actin", "signal": 0.97},
      {"lane": "S24", "protein": "β-actin", "signal": 0.98},
      {"lane": "S18", "protein": "β-actin", "signal": 0.96},
      {"lane": "S14", "protein": "β-actin", "signal": 0.96},
      {"lane": "CONT", "protein": "β-actin", "signal": 0.95}
    ],
    "barsC": [
      {"group": "S28", "value": 0.969, "upper": 1.012},
      {"group": "S24", "value": 0.978, "upper": 1.033},
      {"group": "S18", "value": 1.01, "upper": 1.041},
      {"group": "S14", "value": 0.989, "upper": 1.071},
      {"group": "CONT", "value": 1.0, "upper": 1.0}
    ],
    "barsD": [
      {"group": "S28", "value": 3.1, "upper": 3.48},
      {"group": "S24", "value": 1.99, "upper": 2.22},
      {"group": "S18", "value": 2.0, "upper": 2.33},
      {"group": "S14", "value": 1.25, "upper": 1.35},
      {"group": "CONT", "value": 1.0, "upper": 1.0}
    ],
    "starsD": [
      {"group": "S28", "y": 3.7, "label": "*"},
      {"group": "S24", "y": 2.42, "label": "*"},
      {"group": "S18", "y": 2.56, "label": "*"},
      {"group": "S14", "y": 1.56, "label": "*"}
    ],
    "sigD": [
      {"from": "S28", "to": "S24", "mid": "S28", "span": 1, "y": 3.99, "ly": 4.24, "label": "*"},
      {"from": "S28", "to": "S18", "mid": "S24", "span": 2, "y": 4.545, "ly": 4.79, "label": "**"},
      {"from": "S18", "to": "S14", "mid": "S18", "span": 1, "y": 2.76, "ly": 2.98, "label": "*"},
      {"from": "S24", "to": "S14", "mid": "S18", "span": 2, "y": 3.26, "ly": 3.54, "label": "*"}
    ]
  },
  "hconcat": [
    {
      "bounds": "flush",
      "spacing": 447,
      "vconcat": [
        {
          "width": 748,
          "height": 500,
          "title": {"text": "A", "offset": -52, "dx": -168},
          "layer": [
            {
              "data": {"name": "barsA"},
              "mark": {"type": "bar", "strokeWidth": 0},
              "encoding": {
                "x": {"field": "group", "type": "nominal", "title": null,
                  "scale": {"domain": ["S28", "S24", "S18", "S14", "CONT"], "paddingInner": 0.32, "paddingOuter": 0.16},
                  "axis": {"labelAngle": -45, "labelAlign": "right", "labelBaseline": "top", "labelPadding": 10, "domainWidth": 5, "tickWidth": 4, "tickSize": 14}},
                "y": {"field": "value", "type": "quantitative", "title": "IGF-1 concentration (ng/ml)",
                  "scale": {"domain": [0, 30], "nice": false},
                  "axis": {"values": [0, 10, 20, 30], "format": "d", "labelFlush": false, "domainWidth": 4, "tickWidth": 4, "tickSize": 14, "labelPadding": 14, "titlePadding": 13}},
                "fill": {"field": "group", "type": "nominal", "legend": null,
                  "scale": {"domain": ["S28", "S24", "S18", "S14", "CONT"], "range": ["#8e8e8e", "#777777", "#c4c4c4", "#d8d8d8", "#9b9b9b"]},
                  "condition": [
                    {"test": "datum.group === 'S28'", "value": {"expr": "{gradient: 'linear', x1: 0, y1: 0, x2: 1.015, y2: 0, stops: ckh24}"}},
                    {"test": "datum.group === 'S14'", "value": {"expr": "{gradient: 'linear', x1: 0, y1: 0, x2: 1, y2: 0, stops: vl7}"}},
                    {"test": "datum.group === 'S18'", "value": {"expr": "{gradient: 'linear', x1: 0, y1: 0, x2: 0, y2: 1, stops: hl25}"}},
                    {"test": "datum.group === 'S24'", "value": {"expr": "{gradient: 'linear', x1: 0, y1: 0, x2: 1, y2: 0, stops: ck12}"}},
                    {"test": "datum.group === 'CONT'", "value": {"expr": "{gradient: 'linear', x1: 0, y1: 0, x2: 0.2939, y2: 1.1764, stops: diag}"}}
                  ]}
              }
            },
            {
              "data": {"name": "barsA"},
              "transform": [{"filter": "datum.group === 'S24' || datum.group === 'S28'"}],
              "mark": {"type": "bar", "strokeWidth": 0, "blend": "difference"},
              "encoding": {
                "x": {"field": "group", "type": "nominal", "title": null},
                "y": {"field": "value", "type": "quantitative", "title": "IGF-1 concentration (ng/ml)", "scale": {"domain": [0, 30], "nice": false}},
                "fill": {"condition": {"test": "datum.group === 'S24'", "value": {"expr": "{gradient: 'linear', x1: 0, y1: 0, x2: 0, y2: 1, stops: ckh28}"}},
                  "value": {"expr": "{gradient: 'linear', x1: 0, y1: 0, x2: 0, y2: 2.715, stops: fh80}"}}
              }
            },
            {
              "data": {"name": "barsA"},
              "mark": {"type": "bar", "fill": "transparent", "stroke": "#000", "strokeWidth": 5},
              "encoding": {
                "x": {"field": "group", "type": "nominal", "title": null},
                "y": {"field": "value", "type": "quantitative", "title": "IGF-1 concentration (ng/ml)", "scale": {"domain": [0, 30], "nice": false}}
              }
            },
            {
              "data": {"name": "barsA"},
              "transform": [{"filter": "datum.upper > datum.value"}],
              "mark": {"type": "rule", "color": "#000", "strokeWidth": 5},
              "encoding": {
                "x": {"field": "group", "type": "nominal", "title": null},
                "y": {"field": "value", "type": "quantitative", "title": "IGF-1 concentration (ng/ml)", "scale": {"domain": [0, 30], "nice": false}},
                "y2": {"field": "upper"}
              }
            },
            {
              "data": {"name": "barsA"},
              "transform": [{"filter": "datum.upper > datum.value"}],
              "mark": {"type": "tick", "color": "#000", "thickness": 5, "size": 57},
              "encoding": {
                "x": {"field": "group", "type": "nominal", "title": null},
                "y": {"field": "upper", "type": "quantitative", "title": "IGF-1 concentration (ng/ml)", "scale": {"domain": [0, 30], "nice": false}}
              }
            },
            {
              "data": {"name": "starsA"},
              "mark": {"type": "text", "fontSize": 42, "baseline": "alphabetic", "dy": 22, "color": "#000"},
              "encoding": {
                "x": {"field": "group", "type": "nominal", "title": null},
                "y": {"field": "y", "type": "quantitative", "title": "IGF-1 concentration (ng/ml)", "scale": {"domain": [0, 30], "nice": false}},
                "text": {"field": "label"}
              }
            },
            {
              "data": {"name": "sigA"},
              "mark": {"type": "rule", "color": "#000", "strokeWidth": 6},
              "encoding": {
                "x": {"field": "from", "type": "nominal", "title": null, "bandPosition": 0.5},
                "x2": {"field": "to", "bandPosition": 0.5},
                "y": {"field": "y", "type": "quantitative", "title": "IGF-1 concentration (ng/ml)", "scale": {"domain": [0, 30], "nice": false}}
              }
            },
            {
              "data": {"name": "sigA"},
              "transform": [{"filter": "datum.span == 2"}],
              "mark": {"type": "text", "fontSize": 42, "baseline": "alphabetic", "dy": 22, "color": "#000"},
              "encoding": {
                "x": {"field": "mid", "type": "nominal", "title": null},
                "y": {"field": "ly", "type": "quantitative", "title": "IGF-1 concentration (ng/ml)", "scale": {"domain": [0, 30], "nice": false}},
                "text": {"field": "label"}
              }
            },
            {
              "data": {"name": "sigA"},
              "transform": [{"filter": "datum.span == 1"}],
              "mark": {"type": "text", "fontSize": 42, "baseline": "alphabetic", "dy": 22, "dx": 75, "color": "#000"},
              "encoding": {
                "x": {"field": "mid", "type": "nominal", "title": null},
                "y": {"field": "ly", "type": "quantitative", "title": "IGF-1 concentration (ng/ml)", "scale": {"domain": [0, 30], "nice": false}},
                "text": {"field": "label"}
              }
            }
          ]
        },
        {
          "width": 740,
          "height": 493,
          "title": {"text": "C", "offset": -22, "dx": -169},
          "layer": [
            {
              "data": {"name": "barsC"},
              "mark": {"type": "bar", "strokeWidth": 0},
              "encoding": {
                "x": {"field": "group", "type": "nominal", "title": null,
                  "scale": {"domain": ["S28", "S24", "S18", "S14", "CONT"], "paddingInner": 0.32, "paddingOuter": 0.16},
                  "axis": {"labelAngle": -45, "labelAlign": "right", "labelBaseline": "top", "labelPadding": 10, "domainWidth": 5, "tickWidth": 4, "tickSize": 14}},
                "y": {"field": "value", "type": "quantitative", "title": ["Relative expression of", "IGF-1"],
                  "scale": {"domain": [0, 1.5], "nice": false},
                  "axis": {"values": [0, 0.5, 1, 1.5], "format": ".1f", "labelFlush": false, "domainWidth": 4, "tickWidth": 4, "tickSize": 14, "labelPadding": 12, "titlePadding": 10, "titleLineHeight": 48}},
                "fill": {"field": "group", "type": "nominal", "legend": null,
                  "scale": {"domain": ["S28", "S24", "S18", "S14", "CONT"], "range": ["#9b9b9b", "#d8d8d8", "#c4c4c4", "#777777", "#8e8e8e"]},
                  "condition": [
                    {"test": "datum.group === 'S28'", "value": {"expr": "{gradient: 'linear', x1: 0, y1: 0, x2: 0.3779, y2: 1.1965, stops: diag}"}},
                    {"test": "datum.group === 'S24'", "value": {"expr": "{gradient: 'linear', x1: 0, y1: 0, x2: 1, y2: 0, stops: vl9}"}},
                    {"test": "datum.group === 'S18'", "value": {"expr": "{gradient: 'linear', x1: 0, y1: 0, x2: 0, y2: 1, stops: hl30}"}},
                    {"test": "datum.group === 'S14'", "value": {"expr": "{gradient: 'linear', x1: 0, y1: 0, x2: 1, y2: 0, stops: ck12}"}},
                    {"test": "datum.group === 'CONT'", "value": {"expr": "{gradient: 'linear', x1: 0, y1: 0, x2: 1.026, y2: 0, stops: ckh24}"}}
                  ]}
              }
            },
            {
              "data": {"name": "barsC"},
              "transform": [{"filter": "datum.group === 'S14' || datum.group === 'CONT'"}],
              "mark": {"type": "bar", "strokeWidth": 0, "blend": "difference"},
              "encoding": {
                "x": {"field": "group", "type": "nominal", "title": null},
                "y": {"field": "value", "type": "quantitative", "title": ["Relative expression of", "IGF-1"], "scale": {"domain": [0, 1.5], "nice": false}},
                "fill": {"condition": {"test": "datum.group === 'S14'", "value": {"expr": "{gradient: 'linear', x1: 0, y1: 0, x2: 0, y2: 1, stops: ckh40}"}},
                  "value": {"expr": "{gradient: 'linear', x1: 0, y1: 0, x2: 0, y2: 1.0466, stops: fh80}"}}
              }
            },
            {
              "data": {"name": "barsC"},
              "mark": {"type": "bar", "fill": "transparent", "stroke": "#000", "strokeWidth": 5.5},
              "encoding": {
                "x": {"field": "group", "type": "nominal", "title": null},
                "y": {"field": "value", "type": "quantitative", "title": ["Relative expression of", "IGF-1"], "scale": {"domain": [0, 1.5], "nice": false}}
              }
            },
            {
              "data": {"name": "barsC"},
              "transform": [{"filter": "datum.upper > datum.value"}],
              "mark": {"type": "rule", "color": "#000", "strokeWidth": 5},
              "encoding": {
                "x": {"field": "group", "type": "nominal", "title": null},
                "y": {"field": "value", "type": "quantitative", "title": ["Relative expression of", "IGF-1"], "scale": {"domain": [0, 1.5], "nice": false}},
                "y2": {"field": "upper"}
              }
            },
            {
              "data": {"name": "barsC"},
              "transform": [{"filter": "datum.upper > datum.value"}],
              "mark": {"type": "tick", "color": "#000", "thickness": 5, "size": 52},
              "encoding": {
                "x": {"field": "group", "type": "nominal", "title": null},
                "y": {"field": "upper", "type": "quantitative", "title": ["Relative expression of", "IGF-1"], "scale": {"domain": [0, 1.5], "nice": false}}
              }
            }
          ]
        }
      ]
    },
    {
      "bounds": "flush",
      "spacing": 0,
      "vconcat": [
        {"width": 10, "height": 40, "data": {"values": []}, "mark": "point"},
        {
          "width": 578,
          "height": 383,
          "title": {"text": "B", "offset": 9, "dx": -214},
          "layer": [
            {
              "data": {"name": "barsB"},
              "mark": {"type": "bar", "strokeWidth": 0},
              "encoding": {
                "x": {"field": "group", "type": "nominal", "title": null,
                  "scale": {"domain": ["S28", "S24", "S18", "S14", "CONT"], "paddingInner": 0.32, "paddingOuter": 0.16},
                  "axis": {"labelAngle": -45, "labelAlign": "right", "labelBaseline": "top", "labelPadding": 10, "domainWidth": 3.5, "tickWidth": 3, "tickSize": 12}},
                "y": {"field": "value", "type": "quantitative", "title": ["Relative expression of", "IGF-1 (fold)"],
                  "scale": {"domain": [0, 1.5], "nice": false},
                  "axis": {"values": [0, 0.5, 1, 1.5], "format": ".1f", "labelFlush": false, "domainWidth": 3, "tickWidth": 3, "tickSize": 12, "labelPadding": 9, "titlePadding": 29, "titleLineHeight": 46}},
                "fill": {"field": "group", "type": "nominal", "legend": null,
                  "scale": {"domain": ["S28", "S24", "S18", "S14", "CONT"], "range": ["#8e8e8e", "#777777", "#c4c4c4", "#d8d8d8", "#9b9b9b"]},
                  "condition": [
                    {"test": "datum.group === 'S28'", "value": {"expr": "{gradient: 'linear', x1: 0, y1: 0, x2: 1.313, y2: 0, stops: ckh24}"}},
                    {"test": "datum.group === 'S14'", "value": {"expr": "{gradient: 'linear', x1: 0, y1: 0, x2: 1, y2: 0, stops: vl7}"}},
                    {"test": "datum.group === 'S18'", "value": {"expr": "{gradient: 'linear', x1: 0, y1: 0, x2: 0, y2: 1, stops: hl20}"}},
                    {"test": "datum.group === 'S24'", "value": {"expr": "{gradient: 'linear', x1: 0, y1: 0, x2: 1, y2: 0, stops: ck12}"}},
                    {"test": "datum.group === 'CONT'", "value": {"expr": "{gradient: 'linear', x1: 0, y1: 0, x2: 0.3678, y2: 1.1946, stops: diag}"}}
                  ]}
              }
            },
            {
              "data": {"name": "barsB"},
              "transform": [{"filter": "datum.group === 'S24' || datum.group === 'S28'"}],
              "mark": {"type": "bar", "strokeWidth": 0, "blend": "difference"},
              "encoding": {
                "x": {"field": "group", "type": "nominal", "title": null},
                "y": {"field": "value", "type": "quantitative", "title": ["Relative expression of", "IGF-1 (fold)"], "scale": {"domain": [0, 1.5], "nice": false}},
                "fill": {"condition": {"test": "datum.group === 'S24'", "value": {"expr": "{gradient: 'linear', x1: 0, y1: 0, x2: 0, y2: 1, stops: ckh24}"}},
                  "value": {"expr": "{gradient: 'linear', x1: 0, y1: 0, x2: 0, y2: 2.794, stops: fh80}"}}
              }
            },
            {
              "data": {"name": "barsB"},
              "mark": {"type": "bar", "fill": "transparent", "stroke": "#000", "strokeWidth": 4},
              "encoding": {
                "x": {"field": "group", "type": "nominal", "title": null},
                "y": {"field": "value", "type": "quantitative", "title": ["Relative expression of", "IGF-1 (fold)"], "scale": {"domain": [0, 1.5], "nice": false}}
              }
            },
            {
              "data": {"name": "barsB"},
              "transform": [{"filter": "datum.upper > datum.value"}],
              "mark": {"type": "tick", "color": "#000", "thickness": 3, "size": 40},
              "encoding": {
                "x": {"field": "group", "type": "nominal", "title": null},
                "y": {"field": "upper", "type": "quantitative", "title": ["Relative expression of", "IGF-1 (fold)"], "scale": {"domain": [0, 1.5], "nice": false}}
              }
            },
            {
              "data": {"name": "starsB"},
              "mark": {"type": "text", "fontSize": 32, "baseline": "alphabetic", "dy": 17, "color": "#000"},
              "encoding": {
                "x": {"field": "group", "type": "nominal", "title": null},
                "y": {"field": "y", "type": "quantitative", "title": ["Relative expression of", "IGF-1 (fold)"], "scale": {"domain": [0, 1.5], "nice": false}},
                "text": {"field": "label"}
              }
            },
            {
              "data": {"name": "sigB"},
              "mark": {"type": "rule", "color": "#000", "strokeWidth": 4},
              "encoding": {
                "x": {"field": "from", "type": "nominal", "title": null, "bandPosition": 0.5},
                "x2": {"field": "to", "bandPosition": 0.5},
                "y": {"field": "y", "type": "quantitative", "title": ["Relative expression of", "IGF-1 (fold)"], "scale": {"domain": [0, 1.5], "nice": false}}
              }
            },
            {
              "data": {"name": "sigB"},
              "transform": [{"filter": "datum.span == 2"}],
              "mark": {"type": "text", "fontSize": 32, "baseline": "alphabetic", "dy": 17, "color": "#000"},
              "encoding": {
                "x": {"field": "mid", "type": "nominal", "title": null},
                "y": {"field": "ly", "type": "quantitative", "title": ["Relative expression of", "IGF-1 (fold)"], "scale": {"domain": [0, 1.5], "nice": false}},
                "text": {"field": "label"}
              }
            },
            {
              "data": {"name": "sigB"},
              "transform": [{"filter": "datum.span == 1"}],
              "mark": {"type": "text", "fontSize": 32, "baseline": "alphabetic", "dy": 17, "dx": 58, "color": "#000"},
              "encoding": {
                "x": {"field": "mid", "type": "nominal", "title": null},
                "y": {"field": "ly", "type": "quantitative", "title": ["Relative expression of", "IGF-1 (fold)"], "scale": {"domain": [0, 1.5], "nice": false}},
                "text": {"field": "label"}
              }
            }
          ]
        },
        {"width": 10, "height": 191, "data": {"values": []}, "mark": "point"},
        {
          "width": 578,
          "height": 221,
          "data": {"name": "blot"},
          "layer": [
            {
              "mark": {"type": "rect", "color": "#e9e9e9", "stroke": "#e9e9e9", "strokeWidth": 1},
              "encoding": {
                "x": {"field": "lane", "type": "nominal", "title": null, "axis": null,
                  "scale": {"domain": ["S28", "S24", "S18", "S14", "CONT"], "paddingInner": 0, "paddingOuter": 0.396, "align": 0.75}},
                "y": {"field": "protein", "type": "nominal", "title": null,
                  "scale": {"domain": ["IGF-1", "β-actin"], "paddingInner": 0.17, "paddingOuter": 0},
                  "axis": {"domain": false, "ticks": false, "labelAlign": "left", "labelPadding": 72, "labelFontSize": 36}}
              }
            },
            {
              "mark": {"type": "point", "filled": true, "opacity": 1,
                "shape": "M -1 0 C -1 -0.36 -0.7 -0.36 0 -0.36 C 0.7 -0.36 1 -0.36 1 0 C 1 0.36 0.7 0.36 0 0.36 C -0.7 0.36 -1 0.36 -1 0 Z"},
              "encoding": {
                "x": {"field": "lane", "type": "nominal", "title": null, "axis": null},
                "y": {"field": "protein", "type": "nominal", "title": null},
                "color": {"field": "signal", "type": "quantitative", "legend": null, "scale": {"domain": [0.6, 1], "range": ["#5a5a5a", "#0d0d0d"]}},
                "size": {"field": "signal", "type": "quantitative", "legend": null, "scale": {"domain": [0.7, 1], "range": [5600, 7800], "zero": false}}
              }
            }
          ]
        },
        {"width": 10, "height": 210, "data": {"values": []}, "mark": "point"},
        {
          "width": 595,
          "height": 395,
          "title": {"text": "D", "offset": 4, "dx": -199},
          "layer": [
            {
              "data": {"name": "barsD"},
              "mark": {"type": "bar", "strokeWidth": 0},
              "encoding": {
                "x": {"field": "group", "type": "nominal", "title": null,
                  "scale": {"domain": ["S28", "S24", "S18", "S14", "CONT"], "paddingInner": 0.32, "paddingOuter": 0.16},
                  "axis": {"labelAngle": -45, "labelAlign": "right", "labelBaseline": "top", "labelPadding": 10, "domainWidth": 3.5, "tickWidth": 3, "tickSize": 12}},
                "y": {"field": "value", "type": "quantitative", "title": ["Relative expression of", "microRNA-98"],
                  "scale": {"domain": [0, 4], "nice": false},
                  "axis": {"values": [0, 1, 2, 3, 4], "format": "d", "labelFlush": false, "domainWidth": 3, "tickWidth": 3, "tickSize": 12, "labelPadding": 12, "titlePadding": 28, "titleLineHeight": 46}},
                "fill": {"field": "group", "type": "nominal", "legend": null,
                  "scale": {"domain": ["S28", "S24", "S18", "S14", "CONT"], "range": ["#9b9b9b", "#d8d8d8", "#c4c4c4", "#777777", "#8e8e8e"]},
                  "condition": [
                    {"test": "datum.group === 'S28'", "value": {"expr": "{gradient: 'linear', x1: 0, y1: 0, x2: 0.3123, y2: 1.1818, stops: diag}"}},
                    {"test": "datum.group === 'S24'", "value": {"expr": "{gradient: 'linear', x1: 0, y1: 0, x2: 1, y2: 0, stops: vl8}"}},
                    {"test": "datum.group === 'S18'", "value": {"expr": "{gradient: 'linear', x1: 0, y1: 0, x2: 0, y2: 1, stops: hl20}"}},
                    {"test": "datum.group === 'S14'", "value": {"expr": "{gradient: 'linear', x1: 0, y1: 0, x2: 1, y2: 0, stops: ck10}"}},
                    {"test": "datum.group === 'CONT'", "value": {"expr": "{gradient: 'linear', x1: 0, y1: 0, x2: 1.276, y2: 0, stops: ckh24}"}}
                  ]}
              }
            },
            {
              "data": {"name": "barsD"},
              "transform": [{"filter": "datum.group === 'S14' || datum.group === 'CONT'"}],
              "mark": {"type": "bar", "strokeWidth": 0, "blend": "difference"},
              "encoding": {
                "x": {"field": "group", "type": "nominal", "title": null},
                "y": {"field": "value", "type": "quantitative", "title": ["Relative expression of", "microRNA-98"], "scale": {"domain": [0, 4], "nice": false}},
                "fill": {"condition": {"test": "datum.group === 'S14'", "value": {"expr": "{gradient: 'linear', x1: 0, y1: 0, x2: 0, y2: 1, stops: ckh16}"}},
                  "value": {"expr": "{gradient: 'linear', x1: 0, y1: 0, x2: 0, y2: 3.484, stops: fh80}"}}
              }
            },
            {
              "data": {"name": "barsD"},
              "mark": {"type": "bar", "fill": "transparent", "stroke": "#000", "strokeWidth": 4.5},
              "encoding": {
                "x": {"field": "group", "type": "nominal", "title": null},
                "y": {"field": "value", "type": "quantitative", "title": ["Relative expression of", "microRNA-98"], "scale": {"domain": [0, 4], "nice": false}}
              }
            },
            {
              "data": {"name": "barsD"},
              "transform": [{"filter": "datum.upper > datum.value"}],
              "mark": {"type": "rule", "color": "#000", "strokeWidth": 4},
              "encoding": {
                "x": {"field": "group", "type": "nominal", "title": null},
                "y": {"field": "value", "type": "quantitative", "title": ["Relative expression of", "microRNA-98"], "scale": {"domain": [0, 4], "nice": false}},
                "y2": {"field": "upper"}
              }
            },
            {
              "data": {"name": "barsD"},
              "transform": [{"filter": "datum.upper > datum.value"}],
              "mark": {"type": "tick", "color": "#000", "thickness": 4, "size": 42},
              "encoding": {
                "x": {"field": "group", "type": "nominal", "title": null},
                "y": {"field": "upper", "type": "quantitative", "title": ["Relative expression of", "microRNA-98"], "scale": {"domain": [0, 4], "nice": false}}
              }
            },
            {
              "data": {"name": "starsD"},
              "mark": {"type": "text", "fontSize": 32, "baseline": "alphabetic", "dy": 17, "color": "#000"},
              "encoding": {
                "x": {"field": "group", "type": "nominal", "title": null},
                "y": {"field": "y", "type": "quantitative", "title": ["Relative expression of", "microRNA-98"], "scale": {"domain": [0, 4], "nice": false}},
                "text": {"field": "label"}
              }
            },
            {
              "data": {"name": "sigD"},
              "mark": {"type": "rule", "color": "#000", "strokeWidth": 4.5},
              "encoding": {
                "x": {"field": "from", "type": "nominal", "title": null, "bandPosition": 0.5},
                "x2": {"field": "to", "bandPosition": 0.5},
                "y": {"field": "y", "type": "quantitative", "title": ["Relative expression of", "microRNA-98"], "scale": {"domain": [0, 4], "nice": false}}
              }
            },
            {
              "data": {"name": "sigD"},
              "transform": [{"filter": "datum.span == 2"}],
              "mark": {"type": "text", "fontSize": 32, "baseline": "alphabetic", "dy": 17, "color": "#000"},
              "encoding": {
                "x": {"field": "mid", "type": "nominal", "title": null},
                "y": {"field": "ly", "type": "quantitative", "title": ["Relative expression of", "microRNA-98"], "scale": {"domain": [0, 4], "nice": false}},
                "text": {"field": "label"}
              }
            },
            {
              "data": {"name": "sigD"},
              "transform": [{"filter": "datum.span == 1"}],
              "mark": {"type": "text", "fontSize": 32, "baseline": "alphabetic", "dy": 17, "dx": 59, "color": "#000"},
              "encoding": {
                "x": {"field": "mid", "type": "nominal", "title": null},
                "y": {"field": "ly", "type": "quantitative", "title": ["Relative expression of", "microRNA-98"], "scale": {"domain": [0, 4], "nice": false}},
                "text": {"field": "label"}
              }
            }
          ]
        }
      ]
    }
  ],
  "config": {
    "view": {"stroke": null},
    "font": "Liberation Sans",
    "axis": {
      "grid": false,
      "domainColor": "#000",
      "tickColor": "#000",
      "labelColor": "#000",
      "titleColor": "#000",
      "labelFont": "Liberation Sans",
      "titleFont": "Liberation Sans",
      "titleFontWeight": "normal",
      "labelFontSize": 36,
      "titleFontSize": 36
    },
    "title": {
      "font": "Liberation Serif",
      "fontWeight": "bold",
      "fontSize": 50,
      "anchor": "start",
      "frame": "group",
      "baseline": "alphabetic",
      "color": "#000"
    },
    "text": {"font": "Liberation Sans"}
  }
}
